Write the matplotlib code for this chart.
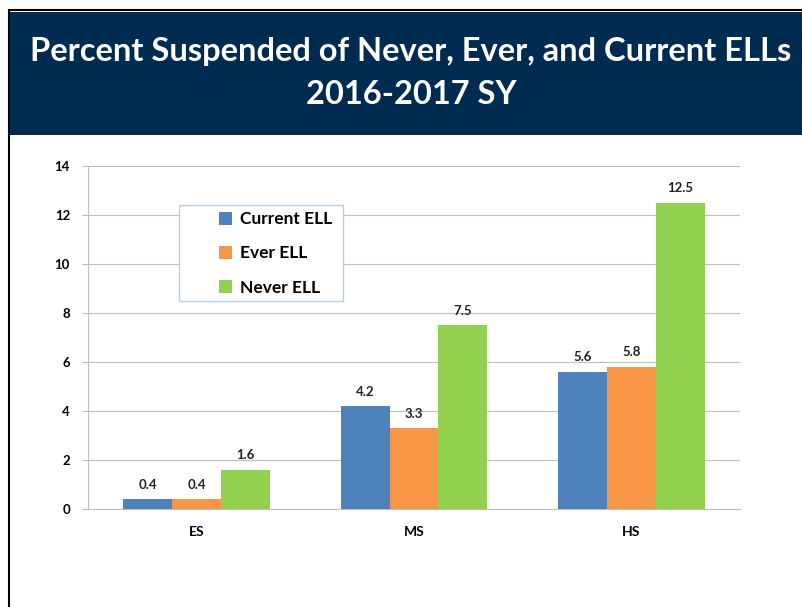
import matplotlib.pyplot as plt
import numpy as np
from matplotlib.patches import Rectangle

plt.rcParams['font.family'] = ['Lato', 'DejaVu Sans']

schools = ["ES", "MS", "HS"]
series = ["Current ELL", "Ever ELL", "Never ELL"]
current_ell = [0.4, 4.2, 5.6]
ever_ell = [0.4, 3.3, 5.8]
never_ell = [1.6, 7.5, 12.5]
colors = ["#4F81BD", "#F79646", "#92D050"]

W, H = 803, 607
fig = plt.figure(figsize=(W / 100, H / 100), dpi=100)

# header band and frame
fig.patches.append(Rectangle((10 / W, 1 - 135 / H), 1, 123 / H, transform=fig.transFigure,
                             facecolor="#002B50", edgecolor="none", zorder=0))
fig.add_artist(plt.Line2D([9 / W, 9 / W], [0, 1 - 10 / H], color="black", lw=1.5))
fig.add_artist(plt.Line2D([9 / W, 1], [1 - 10 / H, 1 - 10 / H], color="black", lw=1.5))
fig.text(411 / W, 1 - 52 / H, "Percent Suspended of Never, Ever, and Current ELLs",
         color="white", fontsize=23.5, fontweight="bold", ha="center", va="center")
fig.text(411 / W, 1 - 95 / H, "2016-2017 SY",
         color="white", fontsize=23.5, fontweight="bold", ha="center", va="center")

ax = fig.add_axes([88 / W, 1 - 509 / H, (740 - 88) / W, (509 - 166) / H])
x = np.arange(len(schools))
width = 0.225
for i, (vals, name) in enumerate(zip([current_ell, ever_ell, never_ell], series)):
    bars = ax.bar(x + (i - 1) * width, vals, width, color=colors[i], label=name, zorder=3)
    for b, v in zip(bars, vals):
        ax.text(b.get_x() + b.get_width() / 2, v + 0.35, f"{v:g}", ha="center", va="bottom",
                fontsize=9.5, fontweight="bold", color="#222222")

ax.set_xlim(-0.5, 2.5)
ax.set_ylim(0, 14)
ax.set_yticks(range(0, 15, 2))
ax.set_xticks(x)
ax.set_xticklabels(schools, fontsize=10, fontweight="bold")
ax.tick_params(axis="x", length=0, pad=12)
ax.tick_params(axis="y", length=4, color="#BFBFBF", labelsize=9.5, pad=9)
for lbl in ax.get_yticklabels():
    lbl.set_fontweight("bold")
ax.grid(axis="y", color="#BFBFBF", lw=0.8, zorder=0)
for s in ["top", "right"]:
    ax.spines[s].set_visible(False)
ax.spines["left"].set_color("#BFBFBF")
ax.spines["bottom"].set_color("#BFBFBF")

# legend box drawn separately so the entries can sit inset like the original
ax_w, ax_h = 740 - 88, 509 - 166
box = Rectangle(((179 - 88) / ax_w, (509 - 301) / ax_h), (343 - 179) / ax_w, (301 - 205) / ax_h,
                transform=ax.transAxes, facecolor="white", edgecolor="#B9CDE5", lw=1, zorder=5)
ax.add_patch(box)
leg = ax.legend(loc="upper left", bbox_to_anchor=((214 - 88) / ax_w, (509 - 206) / ax_h),
                fontsize=12.5, frameon=False, handlelength=0.75, handleheight=0.75,
                borderpad=0.3, labelspacing=1.05, handletextpad=0.45, borderaxespad=0)
leg.set_zorder(6)
for t in leg.get_texts():
    t.set_fontweight("bold")

fig.savefig("out.png", dpi=100)
plt.close(fig)
